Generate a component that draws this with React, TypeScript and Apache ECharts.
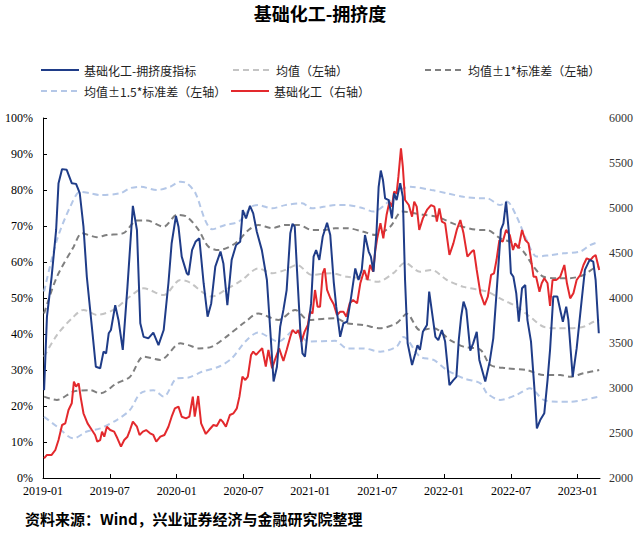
import React, { useEffect, useRef } from 'react';
import * as echarts from 'echarts';

const chartTitle = '基础化工-拥挤度';
const sourceNote = '资料来源：Wind，兴业证券经济与金融研究院整理';

const seriesNames = {
  crowding: '基础化工-拥挤度指标',
  mean: '均值（左轴）',
  std1: '均值±1*标准差（左轴）',
  std15: '均值±1.5*标准差（左轴）',
  index: '基础化工（右轴）',
};

const xTickLabels = ['2019-01', '2019-07', '2020-01', '2020-07', '2021-01', '2021-07', '2022-01', '2022-07', '2023-01'];

// 拥挤度指标 (%), left axis
const crowding: [string, number][] = [
  ['2019-01-04', 24.4], ['2019-01-12', 44.8], ['2019-01-25', 55.9], ['2019-02-06', 68.9], ['2019-02-12', 81.9],
  ['2019-02-21', 85.8], ['2019-03-05', 85.6], ['2019-03-19', 81.9], ['2019-03-31', 81.7], ['2019-04-10', 79.1],
  ['2019-04-20', 69.8], ['2019-04-29', 55.9], ['2019-05-13', 42.0], ['2019-05-24', 30.9], ['2019-06-05', 30.5],
  ['2019-06-14', 35.1], ['2019-06-21', 34.6], ['2019-06-28', 40.2], ['2019-07-04', 41.1], ['2019-07-16', 48.0],
  ['2019-07-25', 43.9], ['2019-08-06', 35.6], ['2019-08-19', 53.1], ['2019-09-03', 75.6], ['2019-09-14', 68.9],
  ['2019-09-23', 43.0], ['2019-10-02', 39.2], ['2019-10-15', 38.8], ['2019-10-29', 40.4], ['2019-11-12', 36.9],
  ['2019-11-26', 41.1], ['2019-12-09', 54.1], ['2019-12-18', 65.2], ['2019-12-30', 72.8], ['2020-01-06', 69.8],
  ['2020-01-15', 61.5], ['2020-01-29', 56.9], ['2020-02-03', 56.4], ['2020-02-12', 63.3], ['2020-02-21', 65.6],
  ['2020-03-02', 66.6], ['2020-03-14', 54.1], ['2020-03-25', 44.8], ['2020-04-04', 48.5], ['2020-04-15', 58.7],
  ['2020-04-29', 62.9], ['2020-05-07', 59.6], ['2020-05-18', 48.0], ['2020-05-30', 60.6], ['2020-06-11', 64.7],
  ['2020-06-22', 65.6], ['2020-06-29', 74.4], ['2020-07-08', 72.1], ['2020-07-19', 75.6], ['2020-07-28', 73.5],
  ['2020-08-07', 68.4], ['2020-08-21', 63.3], ['2020-09-04', 55.0], ['2020-09-13', 41.1], ['2020-09-22', 26.8],
  ['2020-10-01', 30.9], ['2020-10-10', 42.0], ['2020-10-19', 46.7], ['2020-10-28', 52.2], ['2020-11-07', 68.0],
  ['2020-11-13', 70.6], ['2020-11-19', 69.8], ['2020-11-25', 57.8], ['2020-12-04', 41.1], ['2020-12-10', 34.6],
  ['2020-12-17', 33.7], ['2020-12-26', 42.0], ['2021-01-03', 48.5], ['2021-01-10', 61.5], ['2021-01-17', 63.3],
  ['2021-01-26', 60.6], ['2021-02-04', 67.0], ['2021-02-15', 70.9], ['2021-02-23', 67.5], ['2021-03-04', 54.5],
  ['2021-03-11', 47.6], ['2021-03-22', 39.2], ['2021-03-31', 43.0], ['2021-04-10', 43.4], ['2021-04-21', 50.4],
  ['2021-05-02', 58.2], ['2021-05-11', 55.0], ['2021-05-20', 57.8], ['2021-05-29', 67.5], ['2021-06-08', 62.9],
  ['2021-06-14', 61.5], ['2021-06-21', 57.3], ['2021-06-29', 68.0], ['2021-07-05', 80.9], ['2021-07-11', 85.4],
  ['2021-07-17', 82.8], ['2021-07-23', 77.7], ['2021-08-02', 77.2], ['2021-08-11', 72.1], ['2021-08-17', 79.1],
  ['2021-08-24', 77.2], ['2021-09-03', 81.9], ['2021-09-10', 78.1], ['2021-09-16', 55.0], ['2021-09-23', 37.4],
  ['2021-10-05', 31.4], ['2021-10-14', 34.6], ['2021-10-20', 36.9], ['2021-10-27', 35.6], ['2021-11-04', 40.6],
  ['2021-11-15', 42.5], ['2021-11-21', 51.8], ['2021-11-29', 45.7], ['2021-12-08', 39.2], ['2021-12-16', 38.3],
  ['2021-12-26', 41.1], ['2022-01-04', 37.9], ['2022-01-16', 25.8], ['2022-01-27', 27.2], ['2022-02-04', 28.1],
  ['2022-02-10', 38.3], ['2022-02-16', 44.8], ['2022-02-22', 49.0], ['2022-03-01', 46.7], ['2022-03-12', 35.4],
  ['2022-03-20', 37.4], ['2022-03-30', 40.6], ['2022-04-06', 32.8], ['2022-04-22', 26.8], ['2022-05-04', 32.3],
  ['2022-05-14', 38.8], ['2022-05-23', 51.3], ['2022-06-04', 68.9], ['2022-06-11', 70.7], ['2022-06-18', 76.8],
  ['2022-06-25', 68.9], ['2022-07-01', 56.9], ['2022-07-08', 55.9], ['2022-07-16', 51.3], ['2022-07-23', 43.4],
  ['2022-08-01', 52.7], ['2022-08-10', 53.6], ['2022-08-16', 43.9], ['2022-08-26', 37.9], ['2022-09-04', 25.4],
  ['2022-09-11', 13.8], ['2022-09-20', 16.1], ['2022-10-01', 18.0], ['2022-10-10', 27.2], ['2022-10-17', 35.6],
  ['2022-10-26', 50.4], ['2022-11-06', 50.4], ['2022-11-16', 45.7], ['2022-11-21', 43.4], ['2022-11-30', 47.6],
  ['2022-12-06', 43.9], ['2022-12-18', 28.1], ['2022-12-29', 36.0], ['2023-01-12', 49.4], ['2023-01-21', 57.8],
  ['2023-02-03', 60.6], ['2023-02-12', 60.1], ['2023-02-18', 55.0], ['2023-02-26', 40.2],
];

// 基础化工指数, right axis
const sectorIndex: [string, number][] = [
  ['2019-01-04', 2219], ['2019-01-12', 2256], ['2019-01-25', 2256], ['2019-02-04', 2311], ['2019-02-12', 2422],
  ['2019-02-21', 2589], ['2019-03-01', 2607], ['2019-03-10', 2756], ['2019-03-19', 2830], ['2019-03-25', 3070],
  ['2019-03-31', 3015], ['2019-04-07', 3052], ['2019-04-13', 2885], ['2019-04-20', 2719], ['2019-05-01', 2607],
  ['2019-05-13', 2533], ['2019-05-22', 2478], ['2019-05-28', 2404], ['2019-06-05', 2422], ['2019-06-10', 2515],
  ['2019-06-16', 2459], ['2019-06-23', 2570], ['2019-07-02', 2533], ['2019-07-13', 2515], ['2019-07-22', 2441],
  ['2019-08-01', 2348], ['2019-08-10', 2422], ['2019-08-19', 2459], ['2019-08-26', 2533], ['2019-09-03', 2626],
  ['2019-09-14', 2570], ['2019-09-21', 2478], ['2019-09-30', 2515], ['2019-10-09', 2533], ['2019-10-20', 2496],
  ['2019-10-29', 2478], ['2019-11-06', 2404], ['2019-11-17', 2459], ['2019-11-28', 2478], ['2019-12-09', 2570],
  ['2019-12-18', 2681], ['2019-12-27', 2774], ['2020-01-06', 2793], ['2020-01-15', 2681], ['2020-01-27', 2663],
  ['2020-02-05', 2681], ['2020-02-14', 2904], ['2020-02-19', 2681], ['2020-02-28', 2911], ['2020-03-07', 2607],
  ['2020-03-20', 2489], ['2020-03-29', 2533], ['2020-04-10', 2589], ['2020-04-19', 2578], ['2020-04-29', 2652],
  ['2020-05-05', 2626], ['2020-05-14', 2570], ['2020-05-25', 2700], ['2020-06-04', 2719], ['2020-06-13', 2774],
  ['2020-06-20', 2904], ['2020-06-28', 3126], ['2020-07-06', 3089], ['2020-07-13', 3126], ['2020-07-22', 3367],
  ['2020-07-28', 3404], ['2020-08-05', 3367], ['2020-08-13', 3404], ['2020-08-22', 3441], ['2020-09-01', 3237],
  ['2020-09-08', 3422], ['2020-09-18', 3219], ['2020-09-27', 3330], ['2020-10-07', 3441], ['2020-10-19', 3300],
  ['2020-10-28', 3422], ['2020-11-07', 3570], ['2020-11-13', 3644], ['2020-11-22', 3607], ['2020-11-29', 3644],
  ['2020-12-07', 3515], ['2020-12-16', 3626], ['2020-12-25', 3700], ['2020-12-31', 3848], ['2021-01-07', 3830],
  ['2021-01-14', 4089], ['2021-01-21', 3904], ['2021-01-28', 3904], ['2021-02-04', 4274], ['2021-02-09', 4330],
  ['2021-02-15', 4089], ['2021-02-23', 4000], ['2021-03-04', 3930], ['2021-03-13', 3811], ['2021-03-22', 3848],
  ['2021-03-31', 3848], ['2021-04-08', 3793], ['2021-04-17', 3941], ['2021-04-26', 3978], ['2021-05-07', 3941],
  ['2021-05-16', 4163], ['2021-05-27', 4311], ['2021-06-05', 4200], ['2021-06-12', 4367], ['2021-06-20', 4293],
  ['2021-06-26', 4533], ['2021-07-01', 4663], ['2021-07-10', 4830], ['2021-07-18', 4663], ['2021-07-27', 4922],
  ['2021-08-04', 5070], ['2021-08-11', 5015], ['2021-08-17', 5181], ['2021-08-24', 5163], ['2021-08-29', 5348],
  ['2021-09-05', 5663], ['2021-09-10', 5459], ['2021-09-16', 5089], ['2021-09-26', 5033], ['2021-10-05', 4904],
  ['2021-10-11', 5070], ['2021-10-18', 5015], ['2021-10-25', 4756], ['2021-11-04', 4885], ['2021-11-15', 4978],
  ['2021-11-26', 5033], ['2021-12-05', 5015], ['2021-12-12', 4848], ['2021-12-19', 4996], ['2021-12-26', 4848],
  ['2022-01-04', 4830], ['2022-01-16', 4478], ['2022-01-27', 4607], ['2022-02-05', 4756], ['2022-02-14', 4867],
  ['2022-02-22', 4719], ['2022-03-04', 4459], ['2022-03-16', 4515], ['2022-03-22', 4533], ['2022-03-30', 4311],
  ['2022-04-09', 4052], ['2022-04-20', 3922], ['2022-04-29', 4015], ['2022-05-08', 4256], ['2022-05-16', 4274],
  ['2022-05-23', 4422], ['2022-05-31', 4644], ['2022-06-09', 4626], ['2022-06-18', 4756], ['2022-06-28', 4700],
  ['2022-07-07', 4533], ['2022-07-13', 4607], ['2022-07-22', 4552], ['2022-08-01', 4756], ['2022-08-10', 4644],
  ['2022-08-19', 4607], ['2022-08-25', 4459], ['2022-09-02', 4237], ['2022-09-09', 4237], ['2022-09-18', 4070],
  ['2022-09-24', 4163], ['2022-10-01', 4219], ['2022-10-10', 4163], ['2022-10-17', 3911], ['2022-10-24', 4200],
  ['2022-11-03', 4200], ['2022-11-14', 4237], ['2022-11-25', 4367], ['2022-12-02', 4163], ['2022-12-11', 3996],
  ['2022-12-20', 4052], ['2022-12-29', 4200], ['2023-01-08', 4256], ['2023-01-17', 4367], ['2023-01-26', 4441],
  ['2023-02-05', 4422], ['2023-02-12', 4459], ['2023-02-18', 4478], ['2023-02-23', 4385], ['2023-02-27', 4311],
];

const meanLine: [string, number][] = [
  ['2019-01-04', 33.7], ['2019-02-08', 39.7], ['2019-03-24', 44.8], ['2019-04-20', 46.7], ['2019-05-27', 45.3],
  ['2019-07-11', 46.7], ['2019-08-26', 50.4], ['2019-10-02', 52.7], ['2019-11-26', 50.8], ['2020-01-11', 55.0],
  ['2020-02-03', 54.5], ['2020-04-06', 50.4], ['2020-05-12', 52.2], ['2020-06-27', 55.0], ['2020-08-11', 58.2],
  ['2020-09-18', 56.9], ['2020-10-24', 57.8], ['2020-11-25', 59.2], ['2021-01-05', 56.4], ['2021-02-23', 56.9],
  ['2021-04-10', 55.9], ['2021-05-25', 55.5], ['2021-07-01', 54.5], ['2021-08-15', 56.9], ['2021-09-16', 59.8],
  ['2021-10-27', 57.3], ['2021-11-27', 57.8], ['2022-01-09', 55.0], ['2022-02-22', 53.1], ['2022-04-09', 52.2],
  ['2022-04-27', 51.8], ['2022-06-11', 49.4], ['2022-07-17', 47.6], ['2022-08-23', 44.8], ['2022-09-29', 42.0],
  ['2022-11-05', 41.6], ['2022-12-11', 41.6], ['2023-01-17', 42.0], ['2023-02-13', 43.4], ['2023-02-27', 43.9],
];

const upper1Std: [string, number][] = [
  ['2019-01-04', 45.7], ['2019-02-08', 55.9], ['2019-03-24', 64.2], ['2019-04-16', 68.0], ['2019-05-27', 66.9],
  ['2019-06-23', 67.5], ['2019-08-08', 68.0], ['2019-09-14', 71.5], ['2019-10-11', 71.5], ['2019-11-26', 69.8],
  ['2020-01-02', 73.1], ['2020-01-29', 72.6], ['2020-02-29', 68.9], ['2020-03-27', 64.3], ['2020-04-24', 63.3],
  ['2020-06-09', 65.2], ['2020-07-15', 68.9], ['2020-08-11', 70.3], ['2020-09-18', 69.4], ['2020-10-24', 70.3],
  ['2020-11-29', 70.3], ['2021-01-05', 68.9], ['2021-02-10', 68.9], ['2021-03-08', 69.4], ['2021-04-10', 69.4],
  ['2021-05-25', 68.4], ['2021-06-26', 67.5], ['2021-08-06', 69.8], ['2021-09-08', 74.0], ['2021-11-06', 73.1],
  ['2021-12-12', 72.6], ['2022-02-05', 70.3], ['2022-04-09', 68.9], ['2022-04-27', 68.9], ['2022-06-02', 66.6],
  ['2022-07-08', 65.2], ['2022-08-05', 62.9], ['2022-09-02', 58.7], ['2022-09-29', 55.9], ['2022-11-05', 55.5],
  ['2022-12-11', 55.5], ['2023-01-17', 56.4], ['2023-02-13', 58.2], ['2023-02-27', 58.7],
];

const lower1Std: [string, number][] = [
  ['2019-01-04', 22.6], ['2019-02-08', 21.7], ['2019-03-24', 24.0], ['2019-05-08', 24.4], ['2019-06-05', 23.5],
  ['2019-07-20', 26.3], ['2019-08-26', 28.1], ['2019-10-02', 33.7], ['2019-11-17', 32.8], ['2020-01-11', 37.4],
  ['2020-02-03', 36.9], ['2020-02-29', 36.0], ['2020-04-06', 36.5], ['2020-05-21', 39.7], ['2020-07-06', 43.4],
  ['2020-08-11', 45.7], ['2020-10-05', 43.9], ['2020-11-20', 46.7], ['2020-12-26', 43.9], ['2021-03-08', 44.4],
  ['2021-04-10', 43.0], ['2021-05-25', 42.5], ['2021-07-09', 41.6], ['2021-08-24', 43.0], ['2021-09-21', 45.6],
  ['2021-10-27', 41.1], ['2021-12-03', 41.6], ['2022-01-18', 38.3], ['2022-02-22', 36.5], ['2022-04-09', 35.6],
  ['2022-05-06', 31.4], ['2022-06-20', 30.5], ['2022-08-14', 30.0], ['2022-09-29', 28.6], ['2022-11-14', 28.6],
  ['2022-12-11', 28.1], ['2023-01-17', 29.1], ['2023-02-27', 30.0],
];

const upper15Std: [string, number][] = [
  ['2019-01-04', 51.8], ['2019-02-08', 66.1], ['2019-03-15', 75.4], ['2019-04-11', 79.5], ['2019-05-08', 79.1],
  ['2019-06-05', 78.6], ['2019-07-30', 79.1], ['2019-08-26', 80.5], ['2019-09-23', 80.9], ['2019-11-08', 80.0],
  ['2019-12-14', 80.9], ['2020-01-11', 82.3], ['2020-01-29', 81.9], ['2020-02-21', 79.1], ['2020-03-18', 71.7],
  ['2020-04-06', 69.1], ['2020-05-12', 70.3], ['2020-06-18', 71.2], ['2020-07-24', 75.4], ['2020-08-11', 75.8],
  ['2020-09-18', 74.9], ['2020-10-24', 75.8], ['2020-12-09', 76.3], ['2021-01-05', 74.9], ['2021-02-10', 75.4],
  ['2021-03-08', 75.8], ['2021-04-10', 75.8], ['2021-05-25', 74.9], ['2021-06-21', 74.0], ['2021-07-27', 76.3],
  ['2021-09-03', 80.0], ['2021-09-30', 80.9], ['2021-11-27', 80.0], ['2022-01-09', 79.1], ['2022-02-22', 78.1],
  ['2022-04-09', 77.7], ['2022-04-27', 77.7], ['2022-06-02', 75.8], ['2022-06-20', 76.8], ['2022-07-17', 72.6],
  ['2022-08-14', 66.1], ['2022-09-11', 61.5], ['2022-10-17', 61.9], ['2022-11-23', 62.4], ['2023-01-08', 62.9],
  ['2023-02-04', 64.7], ['2023-02-27', 65.6],
];

const lower15Std: [string, number][] = [
  ['2019-01-04', 17.0], ['2019-02-08', 14.3], ['2019-03-24', 11.0], ['2019-04-29', 12.9], ['2019-06-05', 13.8],
  ['2019-07-20', 16.1], ['2019-08-26', 18.9], ['2019-09-23', 23.5], ['2019-10-29', 24.4], ['2019-11-26', 22.6],
  ['2020-01-02', 27.7], ['2020-02-03', 27.9], ['2020-03-09', 29.5], ['2020-04-24', 30.9], ['2020-05-30', 33.2],
  ['2020-07-06', 37.9], ['2020-08-11', 40.4], ['2020-10-05', 37.9], ['2020-11-20', 41.1], ['2020-12-26', 37.9],
  ['2021-03-08', 38.1], ['2021-04-10', 36.0], ['2021-05-25', 36.0], ['2021-07-09', 35.1], ['2021-08-24', 36.5],
  ['2021-09-12', 39.2], ['2021-10-27', 33.7], ['2021-12-03', 32.8], ['2022-01-09', 30.0], ['2022-02-22', 27.7],
  ['2022-04-09', 26.3], ['2022-04-27', 23.5], ['2022-06-02', 21.7], ['2022-07-17', 23.1], ['2022-08-23', 24.9],
  ['2022-09-29', 21.7], ['2022-11-05', 21.2], ['2022-12-11', 21.2], ['2023-01-17', 21.7], ['2023-02-27', 22.6],
];

// months elapsed since 2019-01-01 (x axis unit)
function toMonths(date: string): number {
  const [y, m, d] = date.split('-').map(Number);
  const dim = new Date(y, m, 0).getDate();
  return (y - 2019) * 12 + (m - 1) + (d - 1) / dim;
}
const pts = (arr: [string, number][]) => arr.map(([d, v]) => [toMonths(d), v]);

const COLORS = {
  crowding: '#1F3C88',
  index: '#E3292D',
  mean: '#C4C4C4',
  std1: '#7F7F7F',
  std15: '#B4C7E7',
};

const SERIF = '"Liberation Serif", "Times New Roman", serif';
const CJK = '"Noto Sans CJK SC", sans-serif';

export default function App() {
  const ref = useRef<HTMLDivElement>(null);
  useEffect(() => {
    document.body.style.margin = '0';
    if (!ref.current) return;
    const chart = echarts.init(ref.current, undefined, { renderer: 'svg' });
    const dashed = (name: string, data: [string, number][], color: string) => ({
      name,
      type: 'line',
      data: pts(data),
      yAxisIndex: 0,
      symbol: 'none',
      smooth: 0.3,
      lineStyle: { color, width: 2, type: [6, 4] },
      itemStyle: { color },
      z: 2,
    });
    const legendItem = (name: string, left: number, top: number) => ({
      data: [name],
      left,
      top,
      padding: 0,
      itemWidth: 38,
      itemHeight: 14,
      itemStyle: { opacity: 0 },
      textStyle: { fontSize: 12, color: '#222', fontFamily: CJK },
      selectedMode: false,
    });
    const xTickValues = xTickLabels.map((_, i) => i * 6);
    chart.setOption({
      animation: false,
      backgroundColor: '#fff',
      title: {
        text: chartTitle,
        left: 'center',
        top: 4,
        padding: 0,
        textStyle: { fontSize: 18, fontWeight: 'bold', color: '#000', fontFamily: CJK },
      },
      legend: [
        legendItem(seriesNames.crowding, 40, 64),
        legendItem(seriesNames.mean, 232, 64),
        legendItem(seriesNames.std1, 424, 64),
        legendItem(seriesNames.std15, 40, 85),
        legendItem(seriesNames.index, 230, 85),
      ],
      grid: { left: 43, right: 40, top: 118, bottom: 55, containLabel: false },
      xAxis: {
        type: 'value',
        min: 0,
        max: 50,
        interval: 6,
        axisLine: { show: true, lineStyle: { color: '#000', width: 1 } },
        axisTick: { show: true, inside: true, length: 4, lineStyle: { color: '#000' }, customValues: xTickValues },
        axisLabel: {
          margin: 7,
          fontSize: 12,
          color: '#000',
          fontFamily: SERIF,
          customValues: xTickValues,
          formatter: (v: number) => (Math.abs(v % 6) < 1e-6 ? xTickLabels[Math.round(v / 6)] ?? '' : ''),
        },
        splitLine: { show: false },
      },
      yAxis: [
        {
          type: 'value',
          min: 0,
          max: 100,
          interval: 10,
          axisLine: { show: true, lineStyle: { color: '#000', width: 1 } },
          axisTick: { show: true, inside: true, length: 4, lineStyle: { color: '#000' } },
          axisLabel: { formatter: '{value}%', fontSize: 12, color: '#000', fontFamily: SERIF, margin: 10 },
          splitLine: { show: false },
        },
        {
          type: 'value',
          position: 'right',
          min: 2000,
          max: 6000,
          interval: 500,
          axisLine: { show: false },
          axisTick: { show: false },
          axisLabel: {
            fontSize: 12,
            color: '#333',
            fontFamily: SERIF,
            margin: 9,
            formatter: (v: number) => String(Math.round(v)),
          },
          splitLine: { show: false },
        },
      ],
      series: [
        dashed(seriesNames.std15, upper15Std, COLORS.std15),
        dashed(seriesNames.std15, lower15Std, COLORS.std15),
        dashed(seriesNames.std1, upper1Std, COLORS.std1),
        dashed(seriesNames.std1, lower1Std, COLORS.std1),
        dashed(seriesNames.mean, meanLine, COLORS.mean),
        {
          name: seriesNames.index,
          type: 'line',
          data: pts(sectorIndex),
          yAxisIndex: 1,
          symbol: 'none',
          lineStyle: { color: COLORS.index, width: 2 },
          itemStyle: { color: COLORS.index },
          z: 3,
        },
        {
          name: seriesNames.crowding,
          type: 'line',
          data: pts(crowding),
          yAxisIndex: 0,
          symbol: 'none',
          lineStyle: { color: COLORS.crowding, width: 2 },
          itemStyle: { color: COLORS.crowding },
          z: 4,
        },
      ],
      graphic: [
        {
          type: 'text',
          left: 25,
          top: 511,
          style: { text: sourceNote, fontSize: 15, fontWeight: 'bold', fill: '#000', fontFamily: CJK },
        },
      ],
    });
    return () => chart.dispose();
  }, []);
  return <div ref={ref} style={{ position: 'absolute', left: 0, top: 0, width: 640, height: 533 }} />;
}
